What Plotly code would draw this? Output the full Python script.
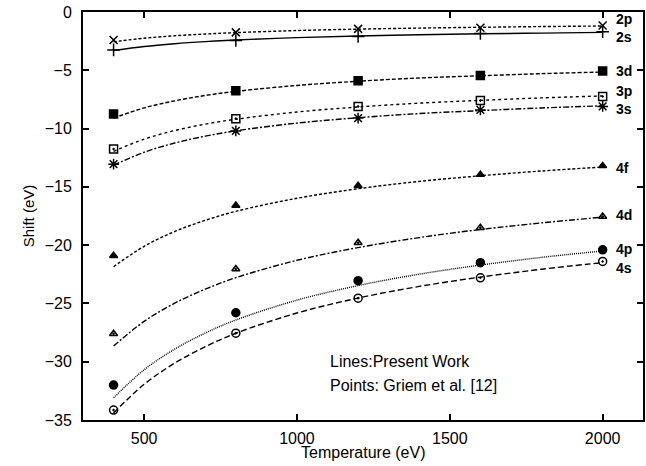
import plotly.graph_objects as go

# Griem et al. points
T_pts = [400, 800, 1200, 1600, 2000]
p2p = [-2.4, -1.75, -1.45, -1.35, -1.15]
p2s = [-3.25, -2.45, -2.1, -1.85, -1.7]
p3d = [-8.75, -6.75, -5.9, -5.45, -5.06]
p3p = [-11.75, -9.15, -8.1, -7.6, -7.25]
p3s = [-13.05, -10.2, -9.1, -8.4, -8.1]
p4f = [-20.9, -16.6, -14.9, -13.95, -13.2]
p4d = [-27.6, -22.05, -19.8, -18.5, -17.55]
p4p = [-32.0, -25.8, -23.05, -21.5, -20.4]
p4s = [-34.15, -27.55, -24.55, -22.8, -21.4]

# Present work curves
T_line = [400, 500, 600, 700, 800, 1000, 1200, 1400, 1600, 1800, 2000]
l2p = [-2.55, -2.25, -2.04, -1.89, -1.77, -1.59, -1.47, -1.38, -1.31, -1.25, -1.2]
l2s = [-3.3, -2.96, -2.72, -2.54, -2.40, -2.20, -2.06, -1.95, -1.87, -1.81, -1.75]
l3d = [-9.1, -8.23, -7.62, -7.16, -6.81, -6.30, -5.94, -5.66, -5.47, -5.29, -5.15]
l3p = [-11.95, -10.91, -10.17, -9.62, -9.20, -8.58, -8.15, -7.82, -7.58, -7.37, -7.2]
l3s = [-13.15, -12.03, -11.24, -10.65, -10.19, -9.53, -9.07, -8.71, -8.46, -8.23, -8.05]
l4f = [-21.85, -20.10, -18.83, -17.87, -17.10, -15.98, -15.16, -14.53, -14.05, -13.64, -13.3]
l4d = [-28.65, -26.54, -24.98, -23.78, -22.79, -21.30, -20.21, -19.35, -18.66, -18.09, -17.6]
l4p = [-33.1, -30.69, -28.92, -27.54, -26.42, -24.72, -23.47, -22.49, -21.71, -21.05, -20.5]
l4s = [-34.4, -31.94, -30.12, -28.71, -27.56, -25.82, -24.54, -23.54, -22.74, -22.07, -21.5]

level_names = ["2p", "2s", "3d", "3p", "3s", "4f", "4d", "4p", "4s"]
label_y = [-0.6, -2.15, -5.05, -6.8, -8.35, -13.35, -17.45, -20.3, -21.95]
label_x = 2042

x_title = "Temperature (eV)"
y_title = "Shift (eV)"
note_lines = ["Lines:Present Work", "Points: Griem et al. [12]"]
note_y = [-30.0, -32.0]

points = [p2p, p2s, p3d, p3p, p3s, p4f, p4d, p4p, p4s]
lines = [l2p, l2s, l3d, l3p, l3s, l4f, l4d, l4p, l4s]
symbols = ["x-thin-open", "cross-thin-open", "square", "square-open-dot", "asterisk-open",
           "triangle-up", "triangle-up-open-dot", "circle", "circle-open-dot"]
sizes = [8, 9, 8, 8, 9, 7, 7, 8, 8]
dashes = ["3px,2px", "solid", "4px,2px", "3px,3px", "6px,2px,2px,2px",
          "3px,2px", "6px,2px,2px,2px", "1px,1px", "6px,3px"]

fig = go.Figure()
for name, ly, py, sym, sz, ds in zip(level_names, lines, points, symbols, sizes, dashes):
    fig.add_trace(go.Scatter(x=T_line, y=ly, mode="lines", line=dict(color="black", width=1.4, dash=ds, shape="spline"),
                             showlegend=False, name=name))
    fig.add_trace(go.Scatter(x=T_pts, y=py, mode="markers",
                             marker=dict(symbol=sym, size=sz, color="black", line=dict(color="black", width=1.5)),
                             showlegend=False, name=name))

for name, yv in zip(level_names, label_y):
    fig.add_annotation(x=label_x, y=yv, text=name, showarrow=False, xanchor="left", yanchor="middle",
                       borderpad=0, font=dict(family="Arial", size=14, color="black", weight="bold"))

for txt, yv in zip(note_lines, note_y):
    fig.add_annotation(x=0.437, y=yv, xref="x domain", text=txt, showarrow=False,
                       xanchor="left", yanchor="middle", font=dict(family="Arial", size=16, color="black"))

fig.add_annotation(x=0.5, y=-0.08, xref="x domain", yref="y domain", text=x_title, showarrow=False,
                   xanchor="center", yanchor="middle", font=dict(family="Arial", size=16, color="black"))

axis_common = dict(showline=True, linecolor="black", linewidth=2, mirror="ticks", ticks="inside",
                   ticklen=6, tickwidth=2, tickcolor="black", showgrid=False, zeroline=False,
                   tickfont=dict(family="Arial", size=16, color="black"))

fig.update_xaxes(range=[300, 2132], tickvals=[500, 1000, 1500, 2000], ticklabelstandoff=3, **axis_common)
fig.update_yaxes(range=[-35, 0], tickvals=[0, -5, -10, -15, -20, -25, -30, -35], ticklabelstandoff=6,
                 title=dict(text=y_title, font=dict(family="Arial", size=15, color="black"), standoff=6),
                 **axis_common)

fig.update_layout(width=646, height=466, margin=dict(l=83, r=1, t=12, b=46),
                  plot_bgcolor="white", paper_bgcolor="white")

fig.write_html("out.html")
